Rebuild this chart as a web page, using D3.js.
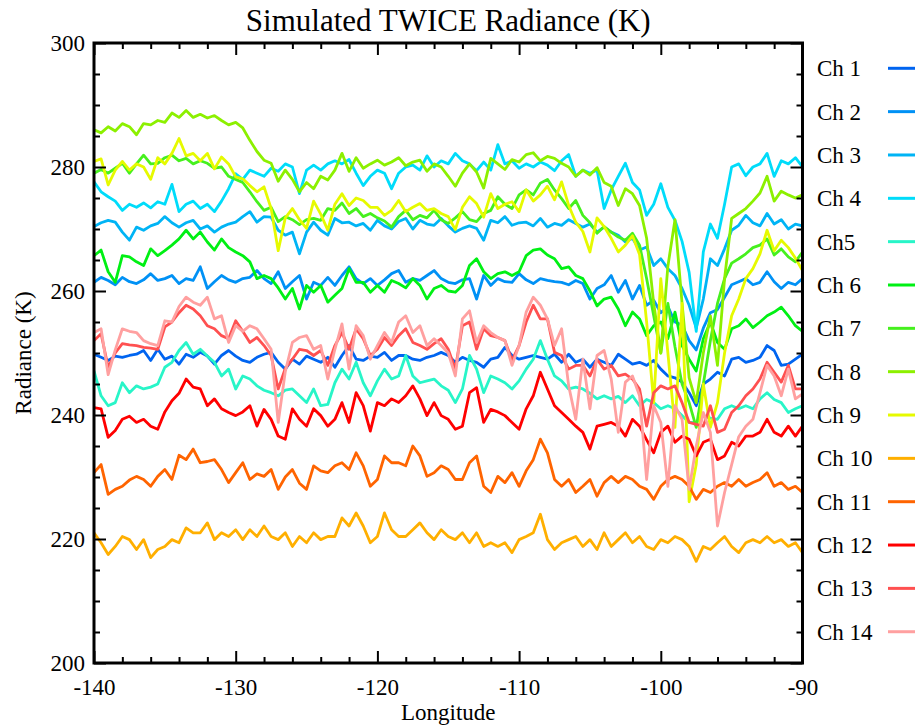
<!DOCTYPE html>
<html>
<head>
<meta charset="utf-8">
<script src="https://cdn.jsdelivr.net/npm/d3@7"></script>
<style>
  body { margin: 0; background: #fff; }
  svg text { font-family: "Liberation Serif", "Times New Roman", serif; fill: #000; }
</style>
</head>
<body>
<svg id="chart" width="915" height="728"></svg>
<script>
// ---- Data ----
const longitudes = d3.range(-140, -89.99, 0.5);   // 101 samples, 0.5 deg apart

const channelNames = ["Ch 1", "Ch 2", "Ch 3", "Ch 4", "Ch5", "Ch 6", "Ch 7",
                      "Ch 8", "Ch 9", "Ch 10", "Ch 11", "Ch 12", "Ch 13", "Ch 14"];

const channelColors = ["#0064f0", "#0091f5", "#00b4f5", "#00dcfa", "#28f5c8", "#00f014", "#46f01e",
                       "#8cf000", "#e6fa00", "#ffaf00", "#ff6400", "#ff0000", "#ff5050", "#ffa0a0"];

const ch1 = [249.8,249.3,248.8,249.5,249.3,249.6,249.8,250.4,248.8,250.6, 249.0,249.5,248.2,249.8,249.3,250.1,249.5,248.2,249.6,250.4,
  249.5,248.8,248.5,249.3,249.8,250.1,248.5,247.4,249.0,248.2, 249.5,249.0,248.5,249.3,247.7,249.6,251.2,249.0,248.8,249.5,
  249.3,250.1,248.8,249.6,249.6,249.0,248.8,249.3,249.6,250.1, 249.6,248.5,249.3,248.8,248.5,247.7,249.0,249.3,250.9,249.6,
  249.0,249.3,249.6,249.3,249.0,249.8,248.5,249.8,248.5,249.0, 247.7,249.0,248.5,248.0,249.8,249.0,248.2,248.5,248.0,248.8,
  247.4,246.3,246.0,245.3,243.6,241.5,245.0,245.8,246.9,246.3, 249.0,249.3,248.5,248.8,249.3,251.2,250.4,248.0,248.2,249.0, 249.8];

const ch2 = [261.4,262.2,261.7,261.0,262.2,261.5,261.2,261.8,262.8,261.7, 262.0,262.5,261.2,262.0,261.7,263.9,260.4,261.5,262.5,261.8,
  261.4,262.0,262.2,263.3,262.0,261.2,263.1,260.4,261.5,262.5, 258.7,261.4,260.9,262.2,260.9,262.5,263.9,262.0,261.2,262.0,
  260.9,261.8,262.8,263.3,261.4,262.0,261.7,262.5,263.3,262.0, 261.4,261.2,261.8,262.0,258.7,262.5,260.9,262.0,261.5,261.4,
  262.8,261.8,261.2,262.0,261.7,261.5,261.4,261.0,261.7,261.2, 258.7,260.4,261.0,262.5,259.8,261.7,258.7,260.9,257.7,258.5,
  256.5,257.5,255.0,254.5,252.0,250.5,254.0,256.5,257.0,259.0, 261.0,261.5,262.0,261.0,261.4,263.1,261.5,260.4,261.4,261.0, 262.0];

const ch3 = [270.4,271.0,271.4,271.1,269.5,268.2,270.3,269.8,270.5,270.9, 272.0,271.0,270.3,271.0,271.4,270.0,270.5,269.5,270.3,270.8,
  271.1,272.0,272.8,271.1,272.0,271.9,269.8,269.0,269.5,266.0, 269.5,271.1,269.8,269.0,271.7,271.0,271.1,270.5,270.9,269.8,
  271.4,270.5,270.0,271.2,271.7,270.0,271.4,270.8,270.6,271.7, 270.5,269.5,270.1,270.5,270.1,268.2,271.4,271.0,272.0,270.6,
  271.0,271.1,270.5,271.7,270.3,270.9,270.6,271.5,270.9,270.3, 270.8,269.5,270.3,269.5,269.0,267.9,268.5,266.6,267.1,264.1,
  265.2,263.6,262.5,260.4,257.7,254.0,258.7,265.2,264.1,266.8, 269.8,270.6,272.2,271.0,270.5,272.5,270.8,271.5,270.0,270.8, 270.5];

const ch4 = [277.6,276.0,275.2,274.5,273.0,274.0,273.5,274.2,273.4,274.4, 274.0,277.2,272.8,274.0,274.5,273.3,274.0,272.8,274.5,276.5,
  278.9,278.0,279.5,279.0,278.5,279.8,279.3,280.5,280.0,275.7, 279.5,280.3,279.5,280.5,281.0,280.5,281.2,279.0,277.0,278.5,
  279.5,279.0,276.5,279.0,280.0,280.3,279.5,281.8,280.0,281.0, 280.5,282.2,281.0,280.5,279.4,280.8,279.5,283.6,280.5,281.0,
  279.8,280.5,280.0,280.8,280.3,279.4,281.0,282.0,278.5,279.5, 279.0,279.5,273.3,276.3,278.5,280.6,277.5,276.3,272.2,274.0,
  277.3,273.5,271.4,268.0,263.0,253.5,266.3,270.8,268.5,274.0, 280.0,280.5,278.6,280.0,280.5,282.2,278.5,281.0,280.5,281.5, 280.0];

const ch5 = [247.1,243.1,241.5,242.0,245.2,243.6,244.7,244.2,244.5,245.0, 247.7,248.5,250.4,251.7,249.8,250.6,249.5,248.5,246.3,247.4,
  244.2,246.3,245.8,244.7,244.0,243.6,243.1,244.0,244.2,243.1, 242.0,244.2,241.5,241.7,245.2,247.4,245.8,248.5,245.2,243.1,
  245.5,247.4,245.8,246.3,249.6,246.3,245.2,245.5,245.8,244.7, 244.0,242.0,244.2,249.6,247.4,243.6,246.3,245.8,245.2,244.2,
  245.5,247.4,249.0,252.0,249.0,246.3,245.5,244.2,244.5,244.2, 243.5,242.6,243.1,242.6,243.0,242.0,243.1,241.5,242.5,242.0,
  241.0,241.5,241.0,239.9,238.8,238.8,239.9,239.5,239.3,241.0, 241.5,241.0,241.5,241.0,242.6,243.6,242.5,242.0,240.4,241.0, 241.5];

const ch6 = [265.7,266.6,263.1,261.4,265.7,265.5,264.7,264.1,266.8,265.7, 266.5,267.4,268.4,269.8,268.4,269.5,267.9,266.6,268.4,267.0,
  266.3,265.7,264.7,262.0,262.5,262.0,260.5,258.7,260.4,257.1, 260.9,259.8,260.9,258.2,259.3,260.4,263.6,261.4,261.4,259.8,
  260.9,259.8,261.7,261.2,260.5,262.0,260.9,258.7,260.4,260.9, 260.0,259.8,260.9,264.1,265.2,263.1,262.0,262.8,263.1,262.5,
  263.1,265.7,266.6,266.8,265.8,265.2,263.6,263.9,262.5,262.0, 260.0,257.6,258.7,259.0,257.1,254.4,256.6,255.5,252.8,254.4,
  255.0,252.3,256.6,251.2,249.0,247.1,252.3,255.0,251.7,250.6, 253.9,254.4,255.5,254.1,255.0,256.0,256.6,257.4,256.0,254.4, 253.5];

const ch7 = [279.0,279.6,279.0,279.8,280.6,279.0,280.5,281.9,280.5,280.6, 281.5,281.9,281.0,281.4,280.5,281.0,280.6,279.8,280.0,278.5,
  278.0,277.5,276.0,274.4,273.0,273.5,271.2,272.0,271.5,270.7, 271.5,271.7,271.4,273.3,273.0,274.2,272.5,273.3,272.0,272.5,
  271.8,271.3,270.3,272.0,273.0,271.5,272.2,271.8,273.0,271.5, 270.9,271.8,272.8,271.5,271.2,272.5,273.0,275.2,274.0,273.3,
  275.5,276.3,275.5,277.4,278.0,276.3,274.9,273.3,274.6,272.2, 271.0,269.3,270.4,269.5,268.7,268.2,269.3,267.4,262.0,256.0,
  250.0,258.0,251.0,245.0,242.0,238.0,245.0,252.0,258.0,262.0, 264.5,265.2,266.0,267.0,267.4,268.4,265.8,266.8,265.5,264.7, 266.3];

const ch8 = [286.0,285.5,286.5,285.8,287.0,286.5,285.2,287.0,286.8,287.5, 287.2,288.7,288.0,289.1,288.0,288.5,287.9,288.3,287.5,286.8,
  287.2,286.3,284.3,282.5,281.1,280.6,277.7,279.5,278.0,276.0, 277.5,276.5,278.5,277.9,279.5,282.2,279.3,281.5,279.8,280.5,
  281.1,280.3,280.8,281.5,280.2,280.8,281.1,279.3,280.5,280.0, 278.5,276.9,279.0,280.5,279.2,276.6,281.4,280.5,279.6,281.2,
  280.8,282.0,282.3,281.0,281.7,281.4,280.6,280.0,278.5,279.5, 278.7,279.9,277.5,276.9,273.8,276.5,275.7,273.8,268.5,258.0,
  250.0,264.0,271.5,258.0,246.0,242.0,250.0,256.0,248.0,262.0, 271.7,272.5,273.3,274.5,275.8,278.5,274.5,276.1,275.5,275.0, 275.5];

const ch9 = [280.9,281.3,277.1,279.5,280.9,279.5,280.5,280.0,278.0,281.5, 280.5,282.2,284.6,281.8,282.2,281.0,282.2,279.7,281.6,280.5,
  278.4,278.1,277.0,276.0,276.8,273.3,266.5,271.8,273.3,271.5, 270.1,274.5,272.4,269.8,274.0,275.7,273.8,275.0,274.6,273.5,
  273.5,272.2,273.0,274.6,272.8,273.5,274.1,273.0,273.3,272.5, 272.0,269.9,273.5,275.2,274.1,271.9,275.7,273.3,274.0,274.4,
  272.8,276.3,274.5,275.5,276.9,274.7,277.6,273.8,271.1,269.6, 266.3,271.8,270.4,268.5,266.3,267.4,268.9,265.9,255.0,242.0,
  262.0,250.0,238.0,258.0,226.0,232.0,245.0,238.0,242.0,250.0, 256.0,258.7,262.0,263.6,266.0,269.8,266.5,268.2,267.0,265.3, 263.3];

const ch10 = [221.0,219.4,217.5,218.8,220.4,219.9,218.3,219.9,217.0,218.3, 218.8,219.9,219.4,221.8,221.0,221.0,222.6,219.9,221.0,220.4,
  221.5,219.9,221.5,220.4,222.1,220.4,219.9,221.0,218.8,220.4, 219.4,221.0,219.9,220.4,220.4,223.4,222.1,224.2,222.1,219.4,
  220.4,224.2,221.5,220.4,220.4,221.5,222.6,221.0,219.9,221.5, 220.4,219.9,221.0,219.4,221.0,218.8,219.4,218.8,219.4,217.8,
  219.9,220.4,221.0,224.0,219.9,218.3,219.4,219.9,220.4,218.8, 219.9,218.3,221.0,218.8,219.9,221.0,219.4,220.4,218.8,218.3,
  219.9,219.4,220.4,219.9,218.8,216.4,218.8,218.3,219.4,220.4, 218.8,217.8,219.4,219.9,219.4,220.4,219.4,219.9,218.8,219.4, 217.8];

const ch11 = [230.7,232.0,227.2,228.0,228.5,229.5,230.1,229.6,228.5,230.1, 231.2,229.6,233.5,232.8,234.5,232.3,232.5,232.8,231.2,229.1,
  230.7,232.3,229.6,230.5,230.1,231.2,228.0,230.0,231.2,229.0, 228.0,231.8,231.0,230.7,231.8,232.3,231.2,233.9,231.8,228.5,
  229.6,233.4,232.3,232.3,231.8,235.0,233.4,230.1,230.7,231.8, 231.2,229.6,229.6,232.3,233.4,228.5,227.5,230.1,229.1,230.7,
  228.5,231.0,232.8,236.1,233.9,229.6,228.5,229.6,227.5,228.5, 229.6,226.9,229.1,230.1,229.1,230.1,229.6,228.5,228.0,226.4,
  228.5,229.6,230.1,229.6,228.5,226.4,228.0,227.5,228.5,229.1, 228.5,229.6,228.5,229.1,229.6,230.7,228.5,229.1,228.0,228.5, 227.5];

const ch12 = [241.2,241.0,236.4,237.5,239.3,239.8,238.8,239.3,238.2,237.7, 240.5,242.3,243.5,245.8,244.5,244.2,241.5,242.6,241.0,240.4,
  239.9,240.5,241.5,238.2,240.9,239.3,236.6,236.1,241.0,239.3, 238.2,241.0,239.9,238.2,239.3,242.0,238.8,243.6,241.5,237.4,
  242.0,241.5,242.6,242.0,243.1,244.7,242.6,239.9,242.0,239.9, 239.3,237.7,238.2,243.6,244.4,238.8,240.9,240.5,239.9,238.8,
  237.7,241.0,243.1,246.9,244.2,241.5,240.4,239.3,238.2,237.2, 234.5,238.2,238.5,238.8,238.2,236.6,239.3,238.2,236.0,233.9,
  237.2,238.2,235.6,236.6,236.1,233.4,235.6,236.1,232.8,233.4, 235.6,235.0,236.6,236.6,237.2,239.3,237.2,236.6,238.2,236.6, 238.2];

const ch13 = [252.0,253.1,247.7,250.0,251.5,251.3,251.2,250.9,250.8,250.6, 254.2,255.0,256.5,257.7,257.1,256.0,254.4,253.9,252.8,252.3,
  255.2,253.5,251.7,252.5,251.2,249.6,244.2,247.5,249.0,250.6, 250.4,249.6,250.4,248.0,251.2,253.3,250.6,253.9,252.3,249.6,
  250.6,252.5,251.2,252.8,253.9,251.7,251.2,250.6,251.5,252.3, 250.6,247.4,254.4,255.0,250.6,253.9,252.8,252.5,252.0,248.8,
  251.2,255.0,257.7,255.5,255.5,250.1,249.6,247.4,248.0,248.0, 246.3,249.0,247.4,248.0,246.3,246.6,245.8,244.2,238.2,243.6,
  244.7,244.2,244.7,242.0,238.8,238.5,238.2,241.5,237.2,237.7, 240.4,241.5,243.1,244.2,245.8,248.5,246.9,245.3,248.0,244.2, 244.2];

const ch14 = [253.3,253.9,246.5,250.5,253.9,253.5,253.3,252.0,251.5,251.2, 255.2,255.0,257.5,259.0,258.2,257.7,259.0,255.5,256.0,251.7,
  254.4,253.5,254.4,253.9,252.3,250.6,238.8,247.0,251.7,252.5, 252.8,250.6,251.2,245.8,250.6,254.7,247.4,254.4,252.8,249.0,
  251.2,253.3,251.7,255.0,256.0,253.3,254.4,251.2,252.3,251.2, 250.0,246.3,255.5,256.8,251.7,254.4,253.3,252.5,252.0,248.0,
  251.2,256.6,259.0,257.7,255.5,251.2,253.9,244.7,239.3,249.0, 241.0,249.6,250.4,245.8,237.2,245.3,246.3,243.1,229.6,241.5,
  238.8,228.5,241.5,239.3,228.0,235.0,240.4,237.2,222.1,227.5, 232.0,236.5,238.2,239.3,243.6,248.0,246.3,243.1,247.4,242.6, 243.4];

const channels = [ch1, ch2, ch3, ch4, ch5, ch6, ch7, ch8, ch9, ch10, ch11, ch12, ch13, ch14];

// ---- Ticks ----
const xMajorTicks = [-140, -130, -120, -110, -100, -90];
const xMinorTicks = d3.range(-138, -90, 2).filter(d => d % 10 !== 0);
const yMajorTicks = [200, 220, 240, 260, 280, 300];
const yMinorTicks = d3.range(205, 300, 5).filter(d => d % 20 !== 0);

// ---- Scales ----
const plotLeft = 94, plotRight = 802.5, plotTop = 43, plotBottom = 663;
const xScale = d3.scaleLinear().domain([-140, -90]).range([plotLeft, plotRight]);
const yScale = d3.scaleLinear().domain([200, 300]).range([plotBottom, plotTop]);

const serif = '"Liberation Serif", "Times New Roman", serif';
const svg = d3.select("#chart");

svg.append("defs").append("clipPath").attr("id", "plot-clip")
    .append("rect")
    .attr("x", plotLeft).attr("y", plotTop)
    .attr("width", plotRight - plotLeft).attr("height", plotBottom - plotTop);

// ---- Lines ----
const line = d3.line()
    .x((d, i) => xScale(longitudes[i]))
    .y(d => yScale(d));

svg.append("g")
    .attr("clip-path", "url(#plot-clip)")
    .selectAll("path")
    .data(channels)
    .join("path")
    .attr("d", line)
    .attr("fill", "none")
    .attr("stroke", (d, i) => channelColors[i])
    .attr("stroke-width", 2.8)
    .attr("stroke-linejoin", "round");

// ---- Axes (ticks point inwards, on all four sides) ----
function styleAxis(g) {
    g.select(".domain").remove();
    g.style("font-family", serif);
    g.selectAll(".tick line").attr("stroke", "#000").attr("stroke-width", 2);
    g.selectAll(".tick text").attr("fill", "#000")
        .style("font-family", serif).style("font-size", "23px");
}

const noLabel = () => "";

// bottom
svg.append("g").attr("transform", `translate(0,${plotBottom})`)
    .call(d3.axisBottom(xScale).tickValues(xMajorTicks).tickSize(-12).tickPadding(16).tickFormat(d => String(d)))
    .call(styleAxis);
svg.append("g").attr("transform", `translate(0,${plotBottom})`)
    .call(d3.axisBottom(xScale).tickValues(xMinorTicks).tickSize(-6).tickFormat(noLabel))
    .call(styleAxis);
// top
svg.append("g").attr("transform", `translate(0,${plotTop})`)
    .call(d3.axisTop(xScale).tickValues(xMajorTicks).tickSize(-12).tickFormat(noLabel))
    .call(styleAxis);
svg.append("g").attr("transform", `translate(0,${plotTop})`)
    .call(d3.axisTop(xScale).tickValues(xMinorTicks).tickSize(-6).tickFormat(noLabel))
    .call(styleAxis);
// left
svg.append("g").attr("transform", `translate(${plotLeft},0)`)
    .call(d3.axisLeft(yScale).tickValues(yMajorTicks).tickSize(-12).tickPadding(9).tickFormat(d => String(d)))
    .call(styleAxis);
svg.append("g").attr("transform", `translate(${plotLeft},0)`)
    .call(d3.axisLeft(yScale).tickValues(yMinorTicks).tickSize(-6).tickFormat(noLabel))
    .call(styleAxis);
// right
svg.append("g").attr("transform", `translate(${plotRight},0)`)
    .call(d3.axisRight(yScale).tickValues(yMajorTicks).tickSize(-12).tickFormat(noLabel))
    .call(styleAxis);
svg.append("g").attr("transform", `translate(${plotRight},0)`)
    .call(d3.axisRight(yScale).tickValues(yMinorTicks).tickSize(-6).tickFormat(noLabel))
    .call(styleAxis);

// frame
svg.append("rect")
    .attr("x", plotLeft).attr("y", plotTop)
    .attr("width", plotRight - plotLeft).attr("height", plotBottom - plotTop)
    .attr("fill", "none").attr("stroke", "#000").attr("stroke-width", 3);

// ---- Titles ----
svg.append("text")
    .attr("x", (plotLeft + plotRight) / 2).attr("y", 31)
    .attr("text-anchor", "middle").style("font-size", "31px")
    .text("Simulated TWICE Radiance (K)");

svg.append("text")
    .attr("x", (plotLeft + plotRight) / 2).attr("y", 720)
    .attr("text-anchor", "middle").style("font-size", "23px")
    .text("Longitude");

svg.append("text")
    .attr("transform", `translate(31,${(plotTop + plotBottom) / 2}) rotate(-90)`)
    .attr("text-anchor", "middle").style("font-size", "23px")
    .text("Radiance (K)");

// ---- Legend ----
const legend = svg.append("g")
    .selectAll("g")
    .data(channelNames)
    .join("g")
    .attr("transform", (d, i) => `translate(0,${68.3 + i * 43.34})`);

legend.append("text")
    .attr("x", 817).attr("dy", "0.35em")
    .style("font-size", "23px")
    .text(d => d);

legend.append("line")
    .attr("x1", 888).attr("x2", 918)
    .attr("stroke", (d, i) => channelColors[i])
    .attr("stroke-width", 3);
</script>
</body>
</html>
